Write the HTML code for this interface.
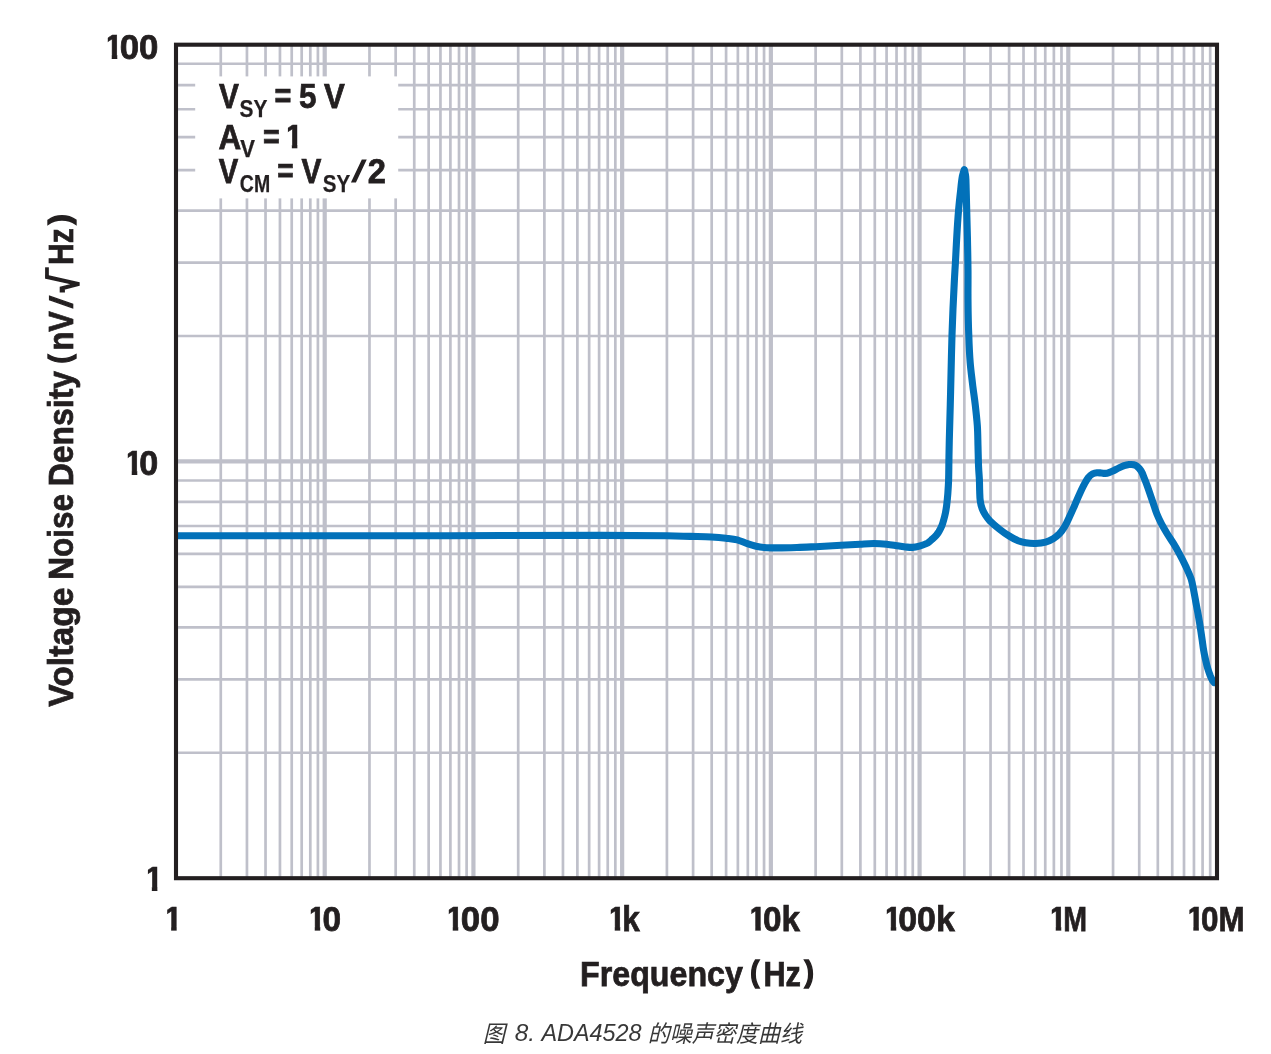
<!DOCTYPE html>
<html lang="zh">
<head>
<meta charset="utf-8">
<title>ADA4528 Voltage Noise Density</title>
<style>
html,body{margin:0;padding:0;background:#fff;}
body{width:1271px;height:1054px;overflow:hidden;font-family:"Liberation Sans","Noto Sans CJK SC",sans-serif;}
svg{display:block;}
</style>
</head>
<body>
<svg width="1271" height="1054" viewBox="0 0 1271 1054">
<rect x="0" y="0" width="1271" height="1054" fill="#ffffff"/>
<g stroke="#bfc0ca" fill="none"><line x1="220.77" y1="44.70" x2="220.77" y2="878.20" stroke-width="2.7"/><line x1="246.95" y1="44.70" x2="246.95" y2="878.20" stroke-width="2.7"/><line x1="265.53" y1="44.70" x2="265.53" y2="878.20" stroke-width="2.7"/><line x1="279.95" y1="44.70" x2="279.95" y2="878.20" stroke-width="2.7"/><line x1="291.72" y1="44.70" x2="291.72" y2="878.20" stroke-width="2.7"/><line x1="301.68" y1="44.70" x2="301.68" y2="878.20" stroke-width="2.7"/><line x1="310.30" y1="44.70" x2="310.30" y2="878.20" stroke-width="2.7"/><line x1="317.91" y1="44.70" x2="317.91" y2="878.20" stroke-width="2.7"/><line x1="324.71" y1="44.70" x2="324.71" y2="878.20" stroke-width="4.2"/><line x1="369.48" y1="44.70" x2="369.48" y2="878.20" stroke-width="2.7"/><line x1="395.67" y1="44.70" x2="395.67" y2="878.20" stroke-width="2.7"/><line x1="414.25" y1="44.70" x2="414.25" y2="878.20" stroke-width="2.7"/><line x1="428.66" y1="44.70" x2="428.66" y2="878.20" stroke-width="2.7"/><line x1="440.44" y1="44.70" x2="440.44" y2="878.20" stroke-width="2.7"/><line x1="450.39" y1="44.70" x2="450.39" y2="878.20" stroke-width="2.7"/><line x1="459.02" y1="44.70" x2="459.02" y2="878.20" stroke-width="2.7"/><line x1="466.62" y1="44.70" x2="466.62" y2="878.20" stroke-width="2.7"/><line x1="473.43" y1="44.70" x2="473.43" y2="878.20" stroke-width="4.2"/><line x1="518.20" y1="44.70" x2="518.20" y2="878.20" stroke-width="2.7"/><line x1="544.38" y1="44.70" x2="544.38" y2="878.20" stroke-width="2.7"/><line x1="562.96" y1="44.70" x2="562.96" y2="878.20" stroke-width="2.7"/><line x1="577.38" y1="44.70" x2="577.38" y2="878.20" stroke-width="2.7"/><line x1="589.15" y1="44.70" x2="589.15" y2="878.20" stroke-width="2.7"/><line x1="599.11" y1="44.70" x2="599.11" y2="878.20" stroke-width="2.7"/><line x1="607.73" y1="44.70" x2="607.73" y2="878.20" stroke-width="2.7"/><line x1="615.34" y1="44.70" x2="615.34" y2="878.20" stroke-width="2.7"/><line x1="622.14" y1="44.70" x2="622.14" y2="878.20" stroke-width="4.2"/><line x1="666.91" y1="44.70" x2="666.91" y2="878.20" stroke-width="2.7"/><line x1="693.10" y1="44.70" x2="693.10" y2="878.20" stroke-width="2.7"/><line x1="711.68" y1="44.70" x2="711.68" y2="878.20" stroke-width="2.7"/><line x1="726.09" y1="44.70" x2="726.09" y2="878.20" stroke-width="2.7"/><line x1="737.87" y1="44.70" x2="737.87" y2="878.20" stroke-width="2.7"/><line x1="747.82" y1="44.70" x2="747.82" y2="878.20" stroke-width="2.7"/><line x1="756.45" y1="44.70" x2="756.45" y2="878.20" stroke-width="2.7"/><line x1="764.05" y1="44.70" x2="764.05" y2="878.20" stroke-width="2.7"/><line x1="770.86" y1="44.70" x2="770.86" y2="878.20" stroke-width="4.2"/><line x1="815.62" y1="44.70" x2="815.62" y2="878.20" stroke-width="2.7"/><line x1="841.81" y1="44.70" x2="841.81" y2="878.20" stroke-width="2.7"/><line x1="860.39" y1="44.70" x2="860.39" y2="878.20" stroke-width="2.7"/><line x1="874.80" y1="44.70" x2="874.80" y2="878.20" stroke-width="2.7"/><line x1="886.58" y1="44.70" x2="886.58" y2="878.20" stroke-width="2.7"/><line x1="896.54" y1="44.70" x2="896.54" y2="878.20" stroke-width="2.7"/><line x1="905.16" y1="44.70" x2="905.16" y2="878.20" stroke-width="2.7"/><line x1="912.77" y1="44.70" x2="912.77" y2="878.20" stroke-width="2.7"/><line x1="919.57" y1="44.70" x2="919.57" y2="878.20" stroke-width="4.2"/><line x1="964.34" y1="44.70" x2="964.34" y2="878.20" stroke-width="2.7"/><line x1="990.53" y1="44.70" x2="990.53" y2="878.20" stroke-width="2.7"/><line x1="1009.11" y1="44.70" x2="1009.11" y2="878.20" stroke-width="2.7"/><line x1="1023.52" y1="44.70" x2="1023.52" y2="878.20" stroke-width="2.7"/><line x1="1035.29" y1="44.70" x2="1035.29" y2="878.20" stroke-width="2.7"/><line x1="1045.25" y1="44.70" x2="1045.25" y2="878.20" stroke-width="2.7"/><line x1="1053.87" y1="44.70" x2="1053.87" y2="878.20" stroke-width="2.7"/><line x1="1061.48" y1="44.70" x2="1061.48" y2="878.20" stroke-width="2.7"/><line x1="1068.29" y1="44.70" x2="1068.29" y2="878.20" stroke-width="4.2"/><line x1="1113.05" y1="44.70" x2="1113.05" y2="878.20" stroke-width="2.7"/><line x1="1139.24" y1="44.70" x2="1139.24" y2="878.20" stroke-width="2.7"/><line x1="1157.82" y1="44.70" x2="1157.82" y2="878.20" stroke-width="2.7"/><line x1="1172.23" y1="44.70" x2="1172.23" y2="878.20" stroke-width="2.7"/><line x1="1184.01" y1="44.70" x2="1184.01" y2="878.20" stroke-width="2.7"/><line x1="1193.96" y1="44.70" x2="1193.96" y2="878.20" stroke-width="2.7"/><line x1="1202.59" y1="44.70" x2="1202.59" y2="878.20" stroke-width="2.7"/><line x1="1210.20" y1="44.70" x2="1210.20" y2="878.20" stroke-width="2.7"/><line x1="176.00" y1="752.75" x2="1217.00" y2="752.75" stroke-width="2.7"/><line x1="176.00" y1="679.36" x2="1217.00" y2="679.36" stroke-width="2.7"/><line x1="176.00" y1="627.29" x2="1217.00" y2="627.29" stroke-width="2.7"/><line x1="176.00" y1="586.90" x2="1217.00" y2="586.90" stroke-width="2.7"/><line x1="176.00" y1="553.91" x2="1217.00" y2="553.91" stroke-width="2.7"/><line x1="176.00" y1="526.01" x2="1217.00" y2="526.01" stroke-width="2.7"/><line x1="176.00" y1="501.84" x2="1217.00" y2="501.84" stroke-width="2.7"/><line x1="176.00" y1="480.52" x2="1217.00" y2="480.52" stroke-width="2.7"/><line x1="176.00" y1="461.45" x2="1217.00" y2="461.45" stroke-width="4.2"/><line x1="176.00" y1="336.00" x2="1217.00" y2="336.00" stroke-width="2.7"/><line x1="176.00" y1="262.61" x2="1217.00" y2="262.61" stroke-width="2.7"/><line x1="176.00" y1="210.54" x2="1217.00" y2="210.54" stroke-width="2.7"/><line x1="176.00" y1="170.15" x2="1217.00" y2="170.15" stroke-width="2.7"/><line x1="176.00" y1="137.16" x2="1217.00" y2="137.16" stroke-width="2.7"/><line x1="176.00" y1="109.26" x2="1217.00" y2="109.26" stroke-width="2.7"/><line x1="176.00" y1="85.09" x2="1217.00" y2="85.09" stroke-width="2.7"/><line x1="176.00" y1="63.77" x2="1217.00" y2="63.77" stroke-width="2.7"/></g>
<rect x="195.2" y="76.4" width="203" height="122" fill="#ffffff"/>
<path d="M178.5,535.8C219.0,535.8 257.4,535.8 300.0,535.8C347.4,535.8 400.0,535.8 450.0,535.7C500.0,535.6 560.0,535.3 600.0,535.4C626.7,535.5 650.2,535.5 666.7,535.8C676.5,536.0 682.4,536.2 690.0,536.4C697.3,536.6 705.0,536.6 711.4,537.0C716.7,537.3 721.4,537.7 725.9,538.2C729.9,538.7 733.6,539.0 737.2,539.9C740.7,540.8 744.0,542.5 747.3,543.6C750.3,544.6 753.2,545.5 756.1,546.2C758.9,546.8 761.2,547.2 764.3,547.5C768.3,547.9 773.1,547.9 778.1,547.9C783.9,547.9 790.7,547.7 797.0,547.5C803.3,547.3 809.2,547.0 815.9,546.7C823.7,546.3 833.2,545.7 841.0,545.3C847.8,544.9 854.2,544.5 860.1,544.2C865.1,543.9 869.5,543.5 874.0,543.5C878.3,543.5 882.7,543.8 886.6,544.2C890.1,544.6 893.4,545.2 896.6,545.7C899.7,546.2 902.7,546.7 905.5,547.0C907.9,547.2 910.1,547.5 912.4,547.4C914.7,547.3 916.9,546.8 919.3,546.1C922.0,545.3 925.4,544.3 927.7,543.0C929.5,541.9 930.8,540.5 932.2,539.2C933.6,538.0 935.1,536.7 936.2,535.4C937.3,534.2 938.0,533.0 938.9,531.6C939.9,529.9 941.0,527.8 941.8,525.9C942.6,524.0 943.0,522.2 943.6,520.2C944.3,517.9 945.0,515.1 945.5,512.6C946.0,510.1 946.3,507.8 946.7,505.0C947.1,501.7 947.5,498.0 947.8,494.1C948.1,489.8 948.4,485.3 948.6,480.3C948.8,474.5 948.8,467.9 948.9,461.4C949.0,454.5 949.1,448.6 949.3,440.0C949.6,427.2 950.2,408.7 950.6,392.0C951.1,373.8 951.4,353.9 952.0,335.1C952.6,316.6 953.7,293.1 954.4,280.0C954.8,272.7 955.0,269.2 955.4,262.9C955.8,255.0 956.3,245.2 956.8,236.3C957.3,227.5 957.9,218.0 958.6,209.8C959.2,202.7 960.0,195.8 960.7,189.8C961.2,184.9 961.6,180.3 962.3,176.6C962.9,173.9 963.6,171.9 964.3,169.6C964.8,171.9 965.4,173.9 965.7,176.6C966.1,180.3 966.0,184.9 966.2,189.8C966.4,195.8 966.5,202.7 966.7,209.8C966.9,218.0 967.2,226.9 967.4,236.3C967.6,246.9 967.9,259.1 968.0,270.0C968.1,280.3 967.9,289.6 968.0,300.0C968.1,311.3 968.3,324.5 968.8,335.5C969.1,345.2 969.5,354.2 970.2,362.7C970.8,370.1 971.7,376.6 972.5,383.6C973.3,390.5 974.4,397.5 975.2,404.4C976.0,411.4 976.8,418.3 977.3,425.3C977.8,432.3 977.8,439.2 978.0,446.2C978.2,453.2 978.3,461.0 978.6,467.1C978.8,471.9 979.2,475.8 979.4,480.0C979.6,483.9 979.5,487.7 979.7,491.4C979.8,494.8 979.8,498.2 980.3,501.2C980.7,504.0 981.3,506.5 982.2,508.8C983.0,511.0 984.0,512.9 985.3,514.9C986.6,517.0 988.1,518.9 990.0,521.0C992.5,523.6 996.0,526.5 999.2,529.0C1002.3,531.5 1005.7,533.9 1009.0,535.9C1012.0,537.8 1015.1,539.5 1018.1,540.7C1020.7,541.7 1023.0,542.3 1025.7,542.8C1028.7,543.3 1032.2,543.6 1035.5,543.5C1038.8,543.4 1042.5,543.1 1045.6,542.2C1048.4,541.4 1050.9,540.2 1053.2,538.8C1055.5,537.4 1057.5,535.7 1059.4,533.8C1061.3,531.8 1062.9,529.5 1064.5,526.9C1066.3,523.9 1067.9,520.3 1069.5,516.8C1071.2,513.2 1072.9,509.3 1074.6,505.5C1076.3,501.6 1078.1,497.1 1079.8,493.5C1081.2,490.5 1082.4,487.9 1083.8,485.2C1085.2,482.6 1086.6,479.7 1088.2,477.7C1089.5,476.1 1091.0,474.7 1092.6,473.9C1094.0,473.2 1095.5,472.8 1097.0,472.7C1098.5,472.6 1100.0,472.9 1101.4,473.0C1102.7,473.1 1103.9,473.5 1105.2,473.4C1106.6,473.3 1108.2,472.8 1109.6,472.3C1111.1,471.8 1112.5,471.2 1114.0,470.5C1115.6,469.7 1117.3,468.7 1119.0,467.9C1120.7,467.1 1122.4,466.3 1124.1,465.7C1125.7,465.2 1127.5,464.8 1129.1,464.6C1130.6,464.4 1132.3,464.4 1133.7,464.7C1134.7,464.9 1135.5,465.1 1136.5,465.8C1137.9,466.8 1139.7,468.8 1141.0,470.8C1142.5,473.1 1143.4,476.0 1144.5,478.8C1145.7,481.7 1146.8,484.7 1148.0,488.0C1149.4,492.0 1151.0,496.7 1152.5,501.1C1154.0,505.4 1155.3,510.0 1156.9,514.0C1158.3,517.5 1159.8,520.6 1161.5,523.8C1163.2,527.0 1165.0,530.0 1166.9,533.2C1168.9,536.5 1171.2,539.8 1173.3,543.2C1175.4,546.6 1177.3,549.9 1179.3,553.6C1181.6,557.8 1184.1,562.8 1186.2,567.3C1188.1,571.5 1190.0,575.4 1191.3,579.5C1192.5,583.5 1193.1,587.6 1193.9,591.6C1194.7,595.6 1195.4,599.7 1196.1,603.7C1196.9,607.8 1197.7,611.8 1198.4,615.9C1199.1,619.9 1199.8,624.0 1200.4,628.0C1201.0,632.1 1201.6,636.4 1202.2,640.2C1202.7,643.6 1203.0,646.8 1203.6,650.0C1204.1,653.2 1204.8,656.3 1205.5,659.5C1206.2,662.7 1207.0,666.1 1207.9,669.0C1208.7,671.6 1209.6,674.1 1210.4,676.1C1211.1,677.7 1211.7,679.1 1212.4,680.3C1213.0,681.2 1213.6,681.8 1214.2,682.6" fill="none" stroke="#0271b9" stroke-width="7.1" stroke-linejoin="round" stroke-linecap="round"/>
<rect x="176.0" y="44.7" width="1041.0" height="833.5" fill="none" stroke="#231f20" stroke-width="4.1"/>
<defs><clipPath id="one"><rect x="3.75" y="-30.00" width="9.70" height="25.90"/><rect x="7.70" y="-4.20" width="5.50" height="4.20"/></clipPath></defs>
<g font-family="'Liberation Sans', sans-serif" font-weight="bold" fill="#231f20" stroke="#231f20" stroke-width="0.75" stroke-linejoin="miter" style="opacity:0.999">
<g><text transform="translate(72.8,706.63) rotate(-90)" font-size="34.6" textLength="119.03" lengthAdjust="spacingAndGlyphs">Voltage</text> <text transform="translate(72.8,579.86) rotate(-90)" font-size="34.6" textLength="85.86" lengthAdjust="spacingAndGlyphs">Noise</text> <text transform="translate(72.8,486.18) rotate(-90)" font-size="34.6" textLength="115.28" lengthAdjust="spacingAndGlyphs">Density</text> <text transform="translate(69.53,363.47) rotate(-90)" font-size="30.2" stroke-width="1.4" textLength="8.92" lengthAdjust="spacingAndGlyphs">(</text><text transform="translate(72.8,350.58) rotate(-90)" font-size="34.6" textLength="39.4" lengthAdjust="spacingAndGlyphs">nV</text><text transform="translate(71.56,308.12) rotate(-90) skewX(-8.95)" font-size="30.87" stroke-width="1.4">/</text><text transform="translate(77.61,291.84) rotate(-90)" font-size="40.11" stroke-width="2.0" textLength="16.09" lengthAdjust="spacingAndGlyphs">&#8730;</text><text transform="translate(72.8,264.99) rotate(-90)" font-size="34.6" textLength="36.9" lengthAdjust="spacingAndGlyphs">Hz</text><text transform="translate(69.52,224.45) rotate(-90)" font-size="30.19" stroke-width="1.4" textLength="10.34" lengthAdjust="spacingAndGlyphs">)</text></g>
<g><text transform="translate(104.05,58.9)" font-size="34.6" stroke-width="0.5" clip-path="url(#one)">1</text><text x="119.72" y="58.9" font-size="34.6" textLength="38.72" lengthAdjust="spacingAndGlyphs">00</text></g>
<g><text transform="translate(124.05,475.0)" font-size="34.6" stroke-width="0.5" clip-path="url(#one)">1</text><text x="139.28" y="475.0" font-size="34.6" textLength="18.99" lengthAdjust="spacingAndGlyphs">0</text></g>
<g><text transform="translate(144.15,891.2)" font-size="34.6" stroke-width="0.5" clip-path="url(#one)">1</text></g>
<g><text x="218.93" y="107.9" font-size="34.6" textLength="19.91" lengthAdjust="spacingAndGlyphs">V</text><text x="239.6" y="116.8" font-size="23.0" stroke-width="0.25" textLength="27.84" lengthAdjust="spacingAndGlyphs">SY</text> <text x="274.45" y="107.9" font-size="34.6" textLength="16.87" lengthAdjust="spacingAndGlyphs">=</text> <text x="298.95" y="107.9" font-size="34.6" textLength="17.54" lengthAdjust="spacingAndGlyphs">5</text> <text x="324.0" y="107.9" font-size="34.6" textLength="20.82" lengthAdjust="spacingAndGlyphs">V</text></g>
<g><text x="218.59" y="148.6" font-size="34.6" textLength="22.68" lengthAdjust="spacingAndGlyphs">A</text><text x="240.28" y="156.7" font-size="23.0" stroke-width="0.25" textLength="14.68" lengthAdjust="spacingAndGlyphs">V</text> <text x="263.06" y="148.6" font-size="34.6" textLength="16.76" lengthAdjust="spacingAndGlyphs">=</text> <text transform="translate(284.15,148.6)" font-size="34.6" stroke-width="0.5" clip-path="url(#one)">1</text></g>
<g><text x="218.84" y="183.0" font-size="34.6" textLength="19.5" lengthAdjust="spacingAndGlyphs">V</text><text x="239.87" y="191.8" font-size="23.0" stroke-width="0.25" textLength="30.32" lengthAdjust="spacingAndGlyphs">CM</text> <text x="277.27" y="183.0" font-size="34.6" textLength="16.43" lengthAdjust="spacingAndGlyphs">=</text> <text x="301.43" y="183.0" font-size="34.6" textLength="19.91" lengthAdjust="spacingAndGlyphs">V</text><text x="322.81" y="191.8" font-size="23.0" stroke-width="0.25" textLength="27.42" lengthAdjust="spacingAndGlyphs">SY</text><text transform="translate(352.02,181.23) skewX(-15.95)" font-size="28.56" stroke-width="1.6">/</text><text x="367.7" y="183.0" font-size="34.6" textLength="18.15" lengthAdjust="spacingAndGlyphs">2</text></g>
<g><text transform="translate(163.45,930.8)" font-size="34.6" stroke-width="0.5" clip-path="url(#one)">1</text></g>
<g><text transform="translate(307.05,930.8)" font-size="34.6" stroke-width="0.5" clip-path="url(#one)">1</text><text x="322.5" y="930.8" font-size="34.6" textLength="18.6" lengthAdjust="spacingAndGlyphs">0</text></g>
<g><text transform="translate(445.05,930.8)" font-size="34.6" stroke-width="0.5" clip-path="url(#one)">1</text><text x="460.82" y="930.8" font-size="34.6" textLength="38.72" lengthAdjust="spacingAndGlyphs">00</text></g>
<g><text transform="translate(607.05,930.8)" font-size="34.6" stroke-width="0.5" clip-path="url(#one)">1</text><text x="622.28" y="930.8" font-size="34.6" textLength="17.55" lengthAdjust="spacingAndGlyphs">k</text></g>
<g><text transform="translate(747.60,930.8)" font-size="34.6" stroke-width="0.5" clip-path="url(#one)">1</text><text x="763.07" y="930.8" font-size="34.6" textLength="36.99" lengthAdjust="spacingAndGlyphs">0k</text></g>
<g><text transform="translate(883.05,930.8)" font-size="34.6" stroke-width="0.5" clip-path="url(#one)">1</text><text x="898.19" y="930.8" font-size="34.6" textLength="56.59" lengthAdjust="spacingAndGlyphs">00k</text></g>
<g><text transform="translate(1048.05,930.8)" font-size="34.6" stroke-width="0.5" clip-path="url(#one)">1</text><text x="1063.29" y="930.8" font-size="34.6" textLength="23.8" lengthAdjust="spacingAndGlyphs">M</text></g>
<g><text transform="translate(1185.65,930.8)" font-size="34.6" stroke-width="0.5" clip-path="url(#one)">1</text><text x="1201.06" y="930.8" font-size="34.6" textLength="43.63" lengthAdjust="spacingAndGlyphs">0M</text></g>
<g><text x="580.1" y="985.5" font-size="34.6" textLength="162.85" lengthAdjust="spacingAndGlyphs">Frequency</text> <text x="750.36" y="981.73" font-size="29.17" stroke-width="1.4" textLength="9.03" lengthAdjust="spacingAndGlyphs">(</text><text x="763.38" y="985.5" font-size="34.6" textLength="37.49" lengthAdjust="spacingAndGlyphs">Hz</text><text x="804.52" y="981.72" font-size="29.15" stroke-width="1.4" textLength="9.39" lengthAdjust="spacingAndGlyphs">)</text></g>
</g>
<rect x="45.1" y="267.3" width="3.75" height="11.3" fill="#231f20"/>
<text font-family="'Liberation Sans', 'Noto Sans CJK SC', sans-serif" font-style="italic" font-size="23.4" fill="#383838" style="opacity:0.999"><tspan x="482.63" y="1042.4" textLength="22.43" lengthAdjust="spacingAndGlyphs">图</tspan> <tspan x="514.68" y="1040.9" textLength="20.3" lengthAdjust="spacingAndGlyphs">8.</tspan> <tspan x="541.39" y="1040.9" textLength="100.26" lengthAdjust="spacingAndGlyphs">ADA4528</tspan> <tspan x="647.71" y="1042.4" textLength="154.4" lengthAdjust="spacingAndGlyphs">的噪声密度曲线</tspan></text>
</svg>
</body>
</html>
